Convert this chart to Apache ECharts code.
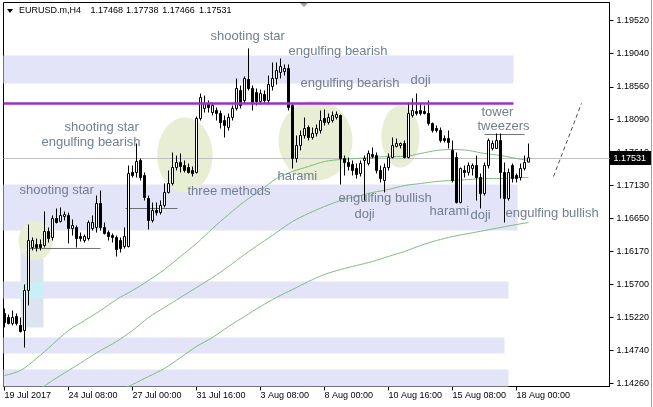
<!DOCTYPE html>
<html><head><meta charset="utf-8">
<script src="https://cdn.jsdelivr.net/npm/echarts@6/dist/echarts.min.js"></script>
<style>html,body{margin:0;padding:0;background:#fff}#c{width:653px;height:407px}</style>
</head><body><div id="c"></div>
<script>
// ---------- data (EURUSD.m, H4) ----------
const symbolTitle = 'EURUSD.m,H4';
const titleQuotes = ['1.17468', '1.17738', '1.17466', '1.17531'];

const xTickIdx = [0, 16, 32, 48, 64, 80, 96, 112, 128];
const xTickLabels = ['19 Jul 2017', '24 Jul 08:00', '27 Jul 00:00', '31 Jul 16:00', '3 Aug 08:00', '8 Aug 00:00', '10 Aug 16:00', '15 Aug 08:00', '18 Aug 00:00'];
const yTicks = [1.14260, 1.14740, 1.15220, 1.15700, 1.16170, 1.16650, 1.17130, 1.17610, 1.18090, 1.18560, 1.19040, 1.19520];

const open = [1.15275,1.15217,1.15130,1.15231,1.15101,1.15028,1.15608,1.16231,1.16274,1.16274,
1.16260,1.16463,1.16376,1.16651,1.16608,1.16680,1.16695,1.16506,1.16521,1.16390,
1.16332,1.16361,1.16506,1.16521,1.16869,1.16521,1.16448,1.16405,1.16376,1.16332,
1.16246,1.16246,1.17318,1.17318,1.17492,1.17274,1.16941,1.16622,1.16767,1.16738,
1.16840,1.17028,1.17158,1.17390,1.17463,1.17419,1.17390,1.17347,1.17318,1.18100,
1.18245,1.18318,1.18187,1.18216,1.18173,1.18071,1.17970,1.18115,1.18245,1.18506,
1.18361,1.18665,1.18535,1.18477,1.18347,1.18448,1.18361,1.18564,1.18680,1.18767,
1.18781,1.18825,1.18289,1.17521,1.17709,1.17854,1.17970,1.17825,1.17883,1.17926,
1.18100,1.18042,1.18071,1.18115,1.18144,1.17521,1.17463,1.17434,1.17376,1.17303,
1.17492,1.17448,1.17579,1.17564,1.17347,1.17202,1.17390,1.17535,1.17695,1.17709,
1.17738,1.17535,1.18144,1.18202,1.18216,1.18202,1.18173,1.18028,1.17955,1.17926,
1.17810,1.17810,1.17637,1.17535,1.16883,1.17347,1.17318,1.17376,1.17419,1.17245,
1.17013,1.17419,1.17666,1.17666,1.17781,1.17318,1.16941,1.17419,1.17274,1.17245,
1.17376,1.17468];
const close = [1.15144,1.15130,1.15217,1.15130,1.15014,1.15608,1.16332,1.16332,1.16231,1.16231,
1.16463,1.16361,1.16651,1.16593,1.16695,1.16709,1.16506,1.16550,1.16361,1.16361,
1.16390,1.16593,1.16593,1.16869,1.16521,1.16434,1.16390,1.16376,1.16202,1.16217,
1.16390,1.17303,1.17274,1.17477,1.17245,1.16956,1.16622,1.16767,1.16738,1.16840,
1.17028,1.17158,1.17390,1.17463,1.17405,1.17347,1.17318,1.17303,1.18100,1.18404,
1.18318,1.18260,1.18289,1.18173,1.18042,1.17999,1.18115,1.18245,1.18535,1.18289,
1.18680,1.18535,1.18332,1.18347,1.18462,1.18361,1.18593,1.18680,1.18796,1.18854,
1.18825,1.18260,1.17521,1.17709,1.17854,1.17955,1.17825,1.17883,1.17955,1.18071,
1.18042,1.18115,1.18144,1.18158,1.17521,1.17463,1.17405,1.17347,1.17289,1.17448,
1.17521,1.17593,1.17550,1.17347,1.17231,1.17390,1.17535,1.17709,1.17738,1.17738,
1.17535,1.18173,1.18216,1.18173,1.18173,1.18173,1.18028,1.17926,1.17926,1.17781,
1.17781,1.17752,1.17202,1.16883,1.17376,1.17318,1.17419,1.17419,1.17245,1.17013,
1.17419,1.17781,1.17738,1.17781,1.17318,1.16941,1.17318,1.17231,1.17231,1.17376,
1.17463,1.17531];
const high = [1.15347,1.15260,1.15318,1.15275,1.15217,1.15695,1.16564,1.16376,1.16361,1.16347,
1.16753,1.16521,1.16695,1.16796,1.16811,1.16753,1.16738,1.16637,1.16550,1.16448,
1.16419,1.16622,1.16695,1.16984,1.17057,1.16593,1.16477,1.16434,1.16405,1.16376,
1.16521,1.17419,1.17419,1.17738,1.17521,1.17318,1.16984,1.16883,1.16883,1.16912,
1.17158,1.17347,1.17608,1.17564,1.17593,1.17492,1.17448,1.17405,1.18129,1.18462,
1.18433,1.18361,1.18332,1.18260,1.18216,1.18144,1.18173,1.18289,1.18680,1.18578,
1.18709,1.19115,1.18578,1.18535,1.18520,1.18506,1.18723,1.18912,1.18912,1.18970,
1.18883,1.18883,1.18318,1.17854,1.17926,1.18115,1.17999,1.17970,1.18013,1.18216,
1.18231,1.18173,1.18202,1.18202,1.18158,1.17564,1.17535,1.17492,1.17448,1.17492,
1.17564,1.17637,1.17680,1.17608,1.17419,1.17448,1.17593,1.17825,1.17810,1.17752,
1.17781,1.18332,1.18390,1.18462,1.18318,1.18289,1.18361,1.18042,1.17999,1.17970,
1.17854,1.17926,1.17781,1.17608,1.17390,1.17419,1.17463,1.17448,1.17564,1.17303,
1.17463,1.17810,1.17781,1.17883,1.17883,1.17463,1.17376,1.17448,1.17303,1.17448,
1.17564,1.17738];
const low = [1.15072,1.15115,1.15101,1.15101,1.14999,1.14782,1.15391,1.16188,1.16173,1.16188,
1.16231,1.16303,1.16332,1.16579,1.16593,1.16622,1.16289,1.16405,1.16231,1.16318,
1.16303,1.16332,1.16477,1.16448,1.16477,1.16419,1.16332,1.16303,1.16101,1.16159,
1.16217,1.16231,1.17245,1.17245,1.17202,1.16912,1.16492,1.16593,1.16695,1.16709,
1.16811,1.17013,1.17129,1.17347,1.17318,1.17318,1.17303,1.17260,1.17303,1.18071,
1.18187,1.18187,1.18144,1.18071,1.17955,1.17825,1.17926,1.18071,1.18216,1.18245,
1.18318,1.18506,1.18216,1.18289,1.18303,1.18318,1.18303,1.18506,1.18593,1.18680,
1.18723,1.18216,1.17376,1.17463,1.17637,1.17810,1.17781,1.17796,1.17839,1.17883,
1.17999,1.18013,1.18042,1.18086,1.17144,1.17274,1.17347,1.17274,1.17231,1.17260,
1.16912,1.17419,1.17521,1.17303,1.17173,1.17028,1.17347,1.17521,1.17680,1.17666,
1.17521,1.17521,1.18115,1.18144,1.18144,1.18158,1.17999,1.17897,1.17897,1.17752,
1.17752,1.17666,1.17173,1.16869,1.16869,1.17245,1.17274,1.17274,1.16912,1.16796,
1.16984,1.17376,1.17637,1.17666,1.16941,1.16593,1.16912,1.17173,1.17173,1.17202,
1.17347,1.17466];

// moving averages (read at every 4th bar)
const fastIdx = [0,4,8,12,16,20,24,28,32,36,40,44,48,52,56,60,64,68,72,76,80,84,88,92,96,100,104,108,112,116,120,124,128,131];
const fastMA = [1.14376,1.14449,1.14623,1.14825,1.15028,1.15173,1.15318,1.15478,1.15608,1.15753,1.15912,1.16101,1.16289,1.16506,1.16709,1.16898,1.17057,1.17231,1.17332,1.17405,1.17477,1.17506,1.17521,1.17535,1.17550,1.17550,1.17593,1.17637,1.17651,1.17637,1.17593,1.17564,1.17521,1.17492];
const midIdx = [8,12,16,20,24,28,32,36,40,44,48,52,56,60,64,68,72,76,80,84,88,92,96,100,104,108,112,116,120,124,128,131];
const midMA = [1.14144,1.14304,1.14449,1.14594,1.14739,1.14869,1.15028,1.15217,1.15362,1.15507,1.15651,1.15796,1.15956,1.16130,1.16289,1.16448,1.16608,1.16724,1.16825,1.16912,1.16970,1.17028,1.17071,1.17129,1.17158,1.17187,1.17202,1.17216,1.17231,1.17231,1.17245,1.17245];
const slowIdx = [28,32,36,40,44,48,52,56,60,64,68,72,76,80,84,88,92,96,100,104,108,112,116,120,124,128,131];
const slowMA = [1.14144,1.14246,1.14362,1.14478,1.14637,1.14797,1.14927,1.15086,1.15231,1.15376,1.15507,1.15622,1.15738,1.15840,1.15912,1.15970,1.16028,1.16101,1.16173,1.16260,1.16332,1.16390,1.16434,1.16477,1.16521,1.16564,1.16593];

// drawn objects (bar index / price)
const zoneX0 = [-0.25, -0.25, -0.25, -0.25, -0.25];
const zoneX1 = [127.25, 128.25, 126, 125, 126];
const zoneTop = [1.19013, 1.17144, 1.15738, 1.14927, 1.14463];
const zoneBottom = [1.18607, 1.16477, 1.15492, 1.14695, 1.14217];
const boxX = [4, 9.75];
const boxPrice = [1.16217, 1.15072];
const boxOverlapPrice = [1.15738, 1.15492];
const ellCx = [7.75, 45.1, 77.75, 99];
const ellCy = [1.16332, 1.17571, 1.17781, 1.17839];
const ellRx = [4.25, 6.9, 9.25, 4.75];
const ellRy = [0.0029, 0.00543, 0.0058, 0.0045];
const resistanceLevel = 1.18318;
const resistanceX = [-0.25, 127.25];
const segX0 = [6, 30.25, 120];
const segX1 = [24, 43.25, 130];
const segPrice = [1.16217, 1.16796, 1.17868];
const trendX = [137.25, 144.25];
const trendPrice = [1.17260, 1.18318];
const annText = ['shooting star','engulfing bearish','engulfing bearish','doji','shooting star','engulfing bearish','shooting star','three methods','harami','engulfing bullish','doji','harami','doji','engulfing bullish','tower','tweezers'];
const annX = [51.5, 71, 74, 101.5, 15, 9.25, 3.75, 45.75, 68.25, 83.5, 87.5, 106.25, 116.5, 125.25, 119.25, 118.25];
const annY = [1.19288, 1.19071, 1.18607, 1.18651, 1.17970, 1.17752, 1.17057, 1.17042, 1.17260, 1.16941, 1.16709, 1.16753, 1.16695, 1.16724, 1.18187, 1.17984];

// ---------- chart ----------
const AXIS_FONT = '"Liberation Sans", Arial, sans-serif';
const X_MIN = -0.25, X_MAX = 151.25, Y_MIN = 1.14217, Y_MAX = 1.19781;
const chart = echarts.init(document.getElementById('c'), null, {renderer: 'canvas'});
const candleData = open.map((o, i) => [i, o, close[i], low[i], high[i]]);
const lastClose = close[close.length - 1];

function rectRender(fill) {
  return function (params, api) {
    const p0 = api.coord([api.value(0), api.value(2)]);
    const p1 = api.coord([api.value(1), api.value(3)]);
    return {type: 'rect', shape: {x: Math.min(p0[0], p1[0]), y: Math.min(p0[1], p1[1]),
      width: Math.abs(p1[0] - p0[0]), height: Math.abs(p1[1] - p0[1])}, style: {fill: fill}};
  };
}
function segRender(color, dash, width) {
  return function (params, api) {
    const p0 = api.coord([api.value(0), api.value(2)]);
    const p1 = api.coord([api.value(1), api.value(3)]);
    return {type: 'line', shape: {x1: p0[0], y1: p0[1], x2: p1[0], y2: p1[1]},
      style: {stroke: color, lineWidth: width || 1, lineDash: dash || null}};
  };
}

const option = {
  animation: false,
  backgroundColor: '#fff',
  grid: {left: 3.5, right: 43.5, top: 2.5, bottom: 20.5, show: true, borderColor: '#000', borderWidth: 1, backgroundColor: 'transparent'},
  xAxis: {
    type: 'value', min: X_MIN, max: X_MAX,
    axisLine: {show: true, onZero: false, lineStyle: {color: '#000', width: 1}},
    axisTick: {show: true, length: 4, customValues: xTickIdx, lineStyle: {color: '#000'}},
    axisLabel: {customValues: xTickIdx, align: 'left', margin: 5, color: '#000', fontFamily: AXIS_FONT, fontSize: 9,
      formatter: v => xTickLabels[xTickIdx.indexOf(Math.round(v))] || ''},
    splitLine: {show: false}
  },
  yAxis: {
    type: 'value', position: 'right', min: Y_MIN, max: Y_MAX, scale: true,
    axisLine: {show: true, onZero: false, lineStyle: {color: '#000', width: 1}},
    axisTick: {show: true, length: 4, customValues: yTicks, lineStyle: {color: '#000'}},
    axisLabel: {customValues: yTicks, margin: 7, color: '#000', fontFamily: AXIS_FONT, fontSize: 9, formatter: v => v.toFixed(5)},
    splitLine: {show: false}
  },
  series: [
    {type: 'custom', name: 'zones', z: 1, silent: true, encode: {x: [0, 1], y: [2, 3]},
      data: zoneX0.map((x, i) => [x, zoneX1[i], zoneTop[i], zoneBottom[i]]), renderItem: rectRender('#e4e4f8')},
    {type: 'custom', name: 'box', z: 1, silent: true, encode: {x: [0, 1], y: [2, 3]},
      data: [[boxX[0], boxX[1], boxPrice[0], boxPrice[1]]], renderItem: rectRender('#dde3ef')},
    {type: 'custom', name: 'boxOverlap', z: 1, silent: true, encode: {x: [0, 1], y: [2, 3]},
      data: [[boxX[0], boxX[1], boxOverlapPrice[0], boxOverlapPrice[1]]], renderItem: rectRender('#c8f0f6')},
    {type: 'custom', name: 'ellipses', z: 1, silent: true, encode: {x: 0, y: 1},
      data: ellCx.map((x, i) => [x, ellCy[i], ellRx[i], ellRy[i]]),
      renderItem: function (params, api) {
        const c = api.coord([api.value(0), api.value(1)]);
        const s = api.size([api.value(2), api.value(3)]);
        return {type: 'ellipse', shape: {cx: c[0], cy: c[1], rx: s[0], ry: s[1]}, style: {fill: '#e7eed4'}};
      }},
    {type: 'custom', name: 'bid', z: 2, silent: true, encode: {x: [0, 1], y: 2},
      data: [[X_MIN, X_MAX, lastClose]],
      renderItem: function (params, api) {
        const p0 = api.coord([api.value(0), api.value(2)]);
        const p1 = api.coord([api.value(1), api.value(2)]);
        const y = Math.round(p0[1]) + 0.5;
        return {type: 'group', children: [
          {type: 'line', shape: {x1: p0[0], y1: y, x2: p1[0], y2: y}, style: {stroke: '#c0c0c0', lineWidth: 1}},
          {type: 'rect', shape: {x: p1[0] + 0.5, y: y - 7.5, width: 41, height: 14}, style: {fill: '#000'}},
          {type: 'text', x: p1[0] + 4, y: y, style: {text: api.value(2).toFixed(5), fill: '#fff',
            font: '9px ' + AXIS_FONT, align: 'left', verticalAlign: 'middle'}}
        ]};
      }},
    {type: 'line', name: 'MA slow', z: 2, showSymbol: false, smooth: 0.3, silent: true,
      lineStyle: {color: '#7dbd7d', width: 1}, data: slowIdx.map((x, i) => [x, slowMA[i]])},
    {type: 'line', name: 'MA mid', z: 2, showSymbol: false, smooth: 0.3, silent: true,
      lineStyle: {color: '#7dbd7d', width: 1}, data: midIdx.map((x, i) => [x, midMA[i]])},
    {type: 'line', name: 'MA fast', z: 2, showSymbol: false, smooth: 0.3, silent: true,
      lineStyle: {color: '#7dbd7d', width: 1}, data: fastIdx.map((x, i) => [x, fastMA[i]])},
    {type: 'custom', name: 'segments', z: 2, silent: true, encode: {x: [0, 1], y: [2, 3]},
      data: segX0.map((x, i) => [x, segX1[i], segPrice[i], segPrice[i]]), renderItem: segRender('#707070')},
    {type: 'candlestick', name: 'EURUSD', z: 3, barWidth: 2, silent: true, data: candleData,
      itemStyle: {color: '#fff', color0: '#000', borderColor: '#000', borderColor0: '#000', borderColorDoji: '#000', borderWidth: 1}},
    {type: 'custom', name: 'resistance', z: 4, silent: true, encode: {x: [0, 1], y: [2, 3]},
      data: [[resistanceX[0], resistanceX[1], resistanceLevel, resistanceLevel]], renderItem: segRender('#9932cc', null, 2.5)},
    {type: 'custom', name: 'trend', z: 4, silent: true, encode: {x: [0, 1], y: [2, 3]},
      data: [[trendX[0], trendX[1], trendPrice[0], trendPrice[1]]], renderItem: segRender('#505050', [4, 3])},
    {type: 'custom', name: 'labels', z: 5, silent: true, encode: {x: 0, y: 1},
      data: annX.map((x, i) => [x, annY[i]]),
      renderItem: function (params, api) {
        const c = api.coord([api.value(0), api.value(1)]);
        return {type: 'text', x: c[0], y: c[1], style: {text: annText[params.dataIndex], fill: '#708090',
          font: '13px "Liberation Sans", Arial, sans-serif', align: 'left', verticalAlign: 'middle'}};
      }}
  ],
  graphic: [
    {type: 'polygon', shape: {points: [[7, 9], [13, 9], [10, 13]]}, style: {fill: '#000'}, silent: true},
    {type: 'text', x: 19, y: 11, style: {text: symbolTitle, font: '9px ' + AXIS_FONT, fill: '#000', verticalAlign: 'middle'}, silent: true},
    {type: 'text', x: 90.5, y: 11, style: {text: titleQuotes[0], font: '9px ' + AXIS_FONT, fill: '#000', verticalAlign: 'middle'}, silent: true},
    {type: 'text', x: 126, y: 11, style: {text: titleQuotes[1], font: '9px ' + AXIS_FONT, fill: '#000', verticalAlign: 'middle'}, silent: true},
    {type: 'text', x: 162.3, y: 11, style: {text: titleQuotes[2], font: '9px ' + AXIS_FONT, fill: '#000', verticalAlign: 'middle'}, silent: true},
    {type: 'text', x: 199, y: 11, style: {text: titleQuotes[3], font: '9px ' + AXIS_FONT, fill: '#000', verticalAlign: 'middle'}, silent: true},
    {type: 'polygon', shape: {points: [[300, 3], [308, 3], [304, 7]]}, style: {fill: '#a0a0a0'}, silent: true},
    {type: 'polygon', shape: {points: [[4, 380], [4, 386], [9, 386]]}, style: {fill: '#a8a8a8'}, silent: true},
    {type: 'line', shape: {x1: 651.5, y1: 0, x2: 651.5, y2: 407}, style: {stroke: '#a0a0a0', lineWidth: 1}, silent: true}
  ]
};
chart.setOption(option);
</script>
</body></html>
